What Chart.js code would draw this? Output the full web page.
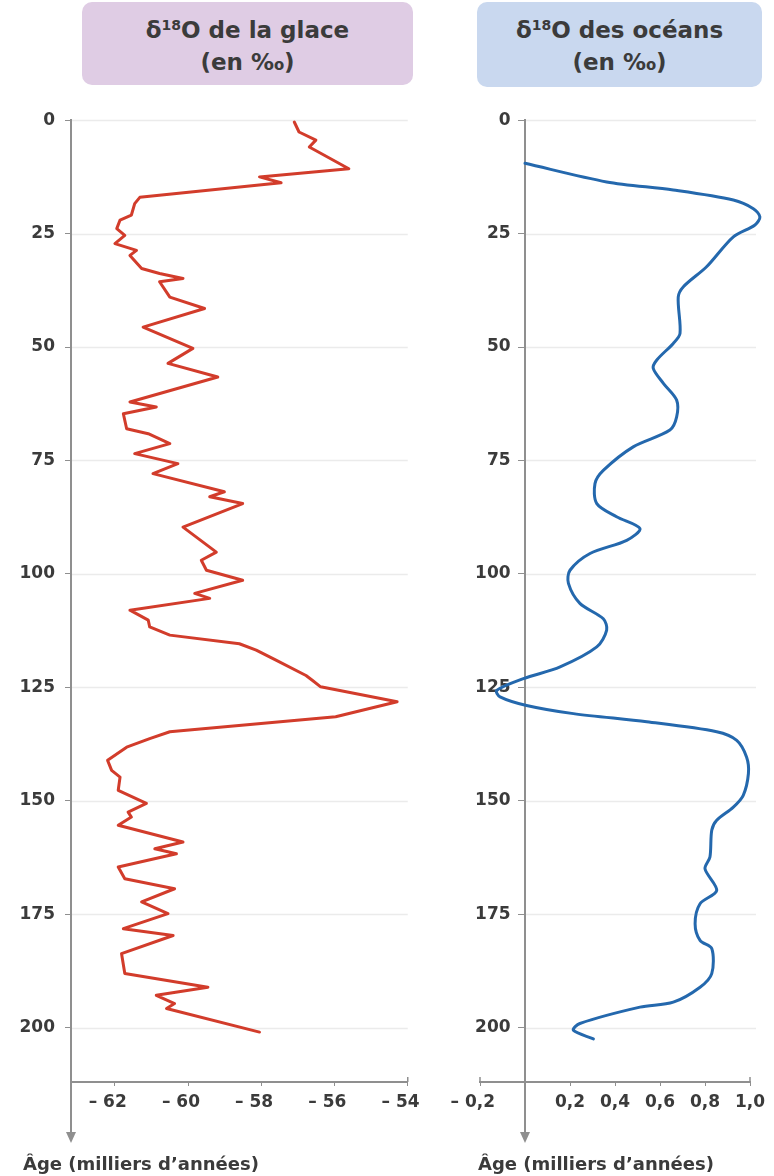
<!DOCTYPE html>
<html><head><meta charset="utf-8">
<script src="https://cdn.jsdelivr.net/npm/chart.js@4.4.0/dist/chart.umd.min.js"></script>
<style>
html,body{margin:0;padding:0;background:#fff;}
body{width:774px;height:1176px;position:relative;overflow:hidden;font-family:"DejaVu Sans",sans-serif;}
.hdr{position:absolute;border-radius:10px;color:#3b3b3b;font-weight:bold;font-size:23px;line-height:32px;text-align:center;box-sizing:border-box;padding-top:12px;}
.hdr sup{font-size:14px;vertical-align:8px;line-height:0;}
.cv{position:absolute;top:100px;}
.age{position:absolute;top:1153px;font-weight:bold;font-size:18px;color:#3b3b3b;white-space:nowrap;}
</style></head><body>
<div class="hdr" style="left:82px;top:2px;width:331px;height:83px;background:#dfcce4;">δ<sup>18</sup>O de la glace<br>(en ‰)</div>
<div class="hdr" style="left:477px;top:2px;width:285px;height:85px;background:#c9d8ef;">δ<sup>18</sup>O des océans<br>(en ‰)</div>
<div class="cv" style="left:0;"><canvas id="c1" width="440" height="1076"></canvas></div>
<div class="cv" style="left:440px;"><canvas id="c2" width="334" height="1076"></canvas></div>
<div class="age" style="left:23px;">Âge (milliers d’années)</div>
<div class="age" style="left:478px;">Âge (milliers d’années)</div>
<script>
const ageTicks = [0, 25, 50, 75, 100, 125, 150, 175, 200];
const iceTicks = [-62, -60, -58, -56, -54];
const oceanTicks = [-0.2, 0.2, 0.4, 0.6, 0.8, 1.0];

const iceAge = [0.4, 2.6, 4.4, 5.9, 10.7, 12.5, 13.8, 17.0, 18.4, 20.9, 22.0, 23.9, 25.4, 27.2, 28.7, 29.8, 32.7, 33.8, 34.9, 35.6, 39.0, 41.5, 45.6, 50.3, 53.6, 56.6, 62.1, 63.2, 64.7, 68.0, 69.1, 71.3, 73.5, 75.7, 77.9, 81.9, 83.0, 84.5, 89.7, 95.2, 97.0, 99.2, 101.4, 104.3, 105.4, 108.0, 110.2, 111.7, 113.5, 115.4, 116.8, 119.0, 122.4, 123.5, 124.9, 128.2, 131.5, 134.8, 136.3, 138.2, 141.1, 143.3, 144.8, 147.7, 150.6, 152.5, 153.6, 155.4, 159.1, 160.6, 161.7, 164.6, 167.2, 169.4, 172.3, 174.9, 178.2, 179.7, 183.7, 188.1, 191.1, 192.9, 194.7, 195.8, 201.0];
const iceD18O = [-57.10, -56.97, -56.51, -56.69, -55.61, -58.05, -57.46, -61.32, -61.46, -61.55, -61.86, -61.95, -61.73, -62.00, -61.41, -61.59, -61.27, -60.78, -60.14, -60.78, -60.50, -59.55, -61.23, -59.87, -60.55, -59.19, -61.59, -60.87, -61.77, -61.68, -61.09, -60.50, -61.46, -60.28, -60.96, -59.01, -59.41, -58.51, -60.14, -59.23, -59.64, -59.50, -58.51, -59.82, -59.41, -61.59, -61.09, -61.05, -60.50, -58.60, -58.14, -57.60, -56.78, -56.60, -56.38, -54.29, -55.97, -60.50, -61.05, -61.68, -62.20, -62.09, -61.86, -61.91, -61.14, -61.64, -61.55, -61.91, -60.14, -60.91, -60.32, -61.91, -61.73, -60.37, -61.27, -60.55, -61.77, -60.41, -61.82, -61.73, -59.46, -60.87, -60.37, -60.59, -58.05];

const oceanAge = [9.5, 13.6, 15.4, 17.6, 19.5, 21.3, 23.1, 25.7, 32.3, 36.7, 39.0, 47.0, 49.2, 52.9, 54.7, 58.0, 61.7, 65.4, 68.3, 72.0, 77.2, 80.1, 84.5, 87.4, 90.0, 92.6, 95.5, 99.2, 102.1, 106.5, 109.9, 112.4, 116.1, 120.5, 123.1, 125.7, 127.1, 129.0, 130.8, 132.6, 134.8, 136.7, 140.4, 144.0, 148.8, 151.4, 154.3, 156.5, 162.4, 165.0, 169.8, 172.7, 177.1, 180.8, 182.6, 188.1, 191.1, 194.4, 195.5, 199.1, 200.6, 202.5];
const oceanD18O = [0.00, 0.363, 0.659, 0.926, 1.015, 1.044, 1.022, 0.926, 0.807, 0.704, 0.681, 0.689, 0.659, 0.585, 0.570, 0.615, 0.674, 0.674, 0.644, 0.481, 0.348, 0.311, 0.319, 0.407, 0.511, 0.452, 0.289, 0.200, 0.193, 0.244, 0.348, 0.363, 0.319, 0.156, -0.007, -0.126, -0.111, 0.007, 0.215, 0.541, 0.852, 0.941, 0.985, 0.993, 0.970, 0.926, 0.852, 0.830, 0.822, 0.800, 0.852, 0.778, 0.756, 0.778, 0.830, 0.830, 0.778, 0.659, 0.511, 0.244, 0.215, 0.304];

const AXIS = '#8f8f8f', GRID = '#ebebeb', TXT = '#3b3b3b';
const FONT = {family: '"DejaVu Sans", sans-serif', size: 17, weight: 'bold'};

function fmt(v, dec) {
  const s = Math.abs(v).toFixed(dec).replace('.', ',');
  return v < 0 ? '– ' + s + '\u2002 ' : s;
}

const deco = {
  id: 'deco',
  beforeDatasetsDraw(chart, args, opts) {
    const {ctx, chartArea: a, scales: {x, y}} = chart;
    ctx.save();
    ctx.strokeStyle = GRID; ctx.lineWidth = 1.5;
    const x0 = x.getPixelForValue(opts.gridFrom) + 1;
    ageTicks.forEach(t => {
      const py = Math.round(y.getPixelForValue(t)) + 0.5;
      ctx.beginPath(); ctx.moveTo(x0, py); ctx.lineTo(a.right + opts.gridExtra, py); ctx.stroke();
    });
    ctx.restore();
  },
  afterDraw(chart, args, opts) {
    const {ctx, chartArea: a, scales: {x}} = chart;
    const ax = x.getPixelForValue(opts.axisAt);
    ctx.save();
    ctx.strokeStyle = AXIS; ctx.fillStyle = AXIS; ctx.lineWidth = 2;
    ctx.beginPath(); ctx.moveTo(ax, a.bottom); ctx.lineTo(ax, opts.arrowY - 8); ctx.stroke();
    ctx.beginPath(); ctx.moveTo(ax - 5, opts.arrowY - 11); ctx.lineTo(ax + 5, opts.arrowY - 11); ctx.lineTo(ax, opts.arrowY); ctx.closePath(); ctx.fill();
    ctx.lineWidth = 1.5;
    [a.left, a.right].forEach(px => { ctx.beginPath(); ctx.moveTo(px, a.bottom); ctx.lineTo(px, a.bottom - 5); ctx.stroke(); });
    ctx.restore();
  }
};

function makeChart(id, ages, vals, color, tension, xMin, xMax, xTicks, dec, yPos, yLabel, pad, gridFrom, axisAt, gridExtra) {
  return new Chart(document.getElementById(id), {
    type: 'scatter',
    data: {datasets: [{
      data: ages.map((a, i) => ({x: vals[i], y: a})),
      showLine: true, borderColor: color, borderWidth: 3, pointRadius: 0,
      tension: tension, fill: false, clip: false, borderJoinStyle: 'round', borderCapStyle: 'round'
    }]},
    options: {
      responsive: false, animation: false, devicePixelRatio: 1,
      layout: {padding: pad},
      plugins: {legend: {display: false}, tooltip: {enabled: false}, deco: {gridFrom: gridFrom, axisAt: axisAt, arrowY: 1043, gridExtra: gridExtra}},
      scales: {
        x: {
          type: 'linear', min: xMin, max: xMax,
          afterBuildTicks: s => { s.ticks = xTicks.map(v => ({value: v})); },
          afterFit: s => { s.height = 40; },
          grid: {drawOnChartArea: false, drawTicks: true, tickLength: 4, color: AXIS},
          border: {color: AXIS, width: 2},
          ticks: {font: FONT, color: TXT, padding: 6, maxRotation: 0, autoSkip: false, callback: v => fmt(v, dec)}
        },
        y: {
          type: 'linear', reverse: true, min: 0, max: 212, position: yPos,
          afterBuildTicks: s => { s.ticks = ageTicks.map(v => ({value: v})); },
          afterFit: s => { s.width = 71; },
          grid: {drawOnChartArea: false, drawTicks: true, tickLength: 6, color: AXIS},
          border: {color: AXIS, width: 2},
          ticks: {font: FONT, color: TXT, padding: 10, autoSkip: false, callback: yLabel}
        }
      }
    },
    plugins: [deco]
  });
}

makeChart('c1', iceAge, iceD18O, '#d23c2b', 0, -63.2, -54, iceTicks, 0, 'left', v => String(v),
  {left: 0, right: 31, top: 20, bottom: 54}, -63.2, -63.2, 0);
makeChart('c2', oceanAge, oceanD18O, '#2468ad', 0.3, -0.2, 1.0, oceanTicks, 1, {x: 0}, v => String(v) + '\u2002 ',
  {left: 40, right: 24, top: 20, bottom: 54}, 0, 0, 6);
</script>
</body></html>
